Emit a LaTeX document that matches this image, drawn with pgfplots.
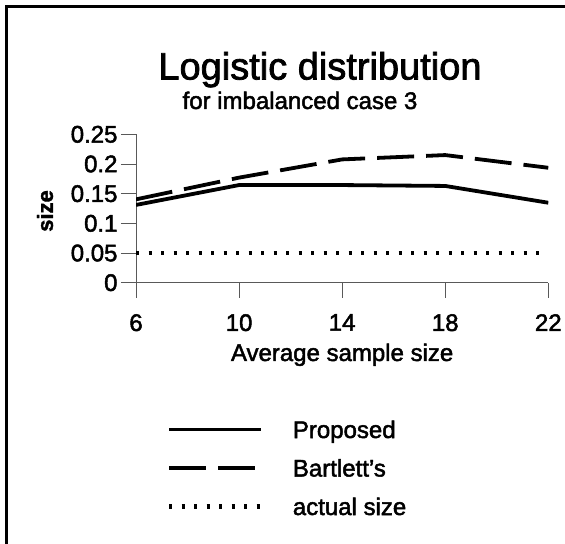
\documentclass[border=0pt]{standalone}
\usepackage{pgfplots}
\pgfplotsset{compat=1.18}
\usepackage{fontspec}
\setmainfont{Liberation Sans}[FakeBold=2]
\newfontfamily\labfont{Liberation Sans Bold}[FakeBold=1.5]
\begin{document}
\begin{tikzpicture}
\useasboundingbox (0,0) rectangle (565bp,544bp);
\fill[white] (0,0) rectangle (565bp,544bp);
\draw[line width=2.7bp, line join=miter] (6.35bp,0bp) -- (6.35bp,537.65bp) -- (565bp,537.65bp);
\begin{axis}[
  anchor=south west, at={(136bp,261.3bp)},
  scale only axis, width=412.3bp, height=148.4bp,
  xmin=6, xmax=22, ymin=0, ymax=0.25,
  axis x line=bottom, axis y line=left,
  axis line style={-, black!65, line width=0.9bp},
  tick align=outside,
  major tick length=15bp,
  tick style={black!65, line width=0.9bp},
  xtick={6,10,14,18,22}, xticklabels={6,10,14,18,22},
  ytick={0,0.05,0.1,0.15,0.2,0.25}, yticklabels={0,0.05,0.1,0.15,0.2,0.25},
  ticklabel style={font=\fontsize{24bp}{28bp}\selectfont},
  xticklabel style={yshift=-13bp},
  xlabel={Average sample size},
  xlabel style={at={(axis description cs:0.5,-0.5276)}, anchor=base, font=\fontsize{24bp}{28bp}\selectfont},
  legend style={draw=none, fill=none, inner sep=0pt, outer sep=0pt,
    at={(axis description cs:0.07519,-0.8983)}, anchor=north west,
    row sep=11.5bp,
    nodes={inner sep=0pt, text height=22bp, text depth=5bp, font=\fontsize{24bp}{28bp}\selectfont},
    /tikz/every odd column/.append style={column sep=29.7bp}},
  legend cell align=left,
  legend image code/.code={\draw[#1] (0bp,0bp) -- (92bp,0bp);},
]
\addplot[black, line width=3.8bp] coordinates {(6,0.131) (10,0.1645) (14,0.1645) (18,0.163) (22,0.1347)};
\addlegendentry{Proposed}
\addplot[black, line width=3.8bp, dash pattern=on 37bp off 12bp] coordinates {(6,0.1404) (10,0.177) (14,0.2077) (18,0.215) (22,0.1936)};
\addlegendentry{Bartlett's}
\addplot[black, line width=4.2bp, dash pattern=on 3bp off 9.5bp] coordinates {(6,0.05) (10,0.05) (14,0.05) (18,0.05) (22,0.05)};
\addlegendentry{actual size}
\end{axis}
\node[rotate=90, anchor=center, inner sep=0pt, font=\fontsize{22bp}{26bp}\labfont] at (45bp,333bp) {size};
\node[anchor=base, font=\fontsize{38bp}{44bp}\selectfont, inner sep=0pt] at (320bp,464.5bp) {Logistic distribution};
\node[anchor=base, font=\fontsize{24bp}{28bp}\selectfont, inner sep=0pt] at (300bp,435bp) {for imbalanced case 3};
\end{tikzpicture}
\end{document}
